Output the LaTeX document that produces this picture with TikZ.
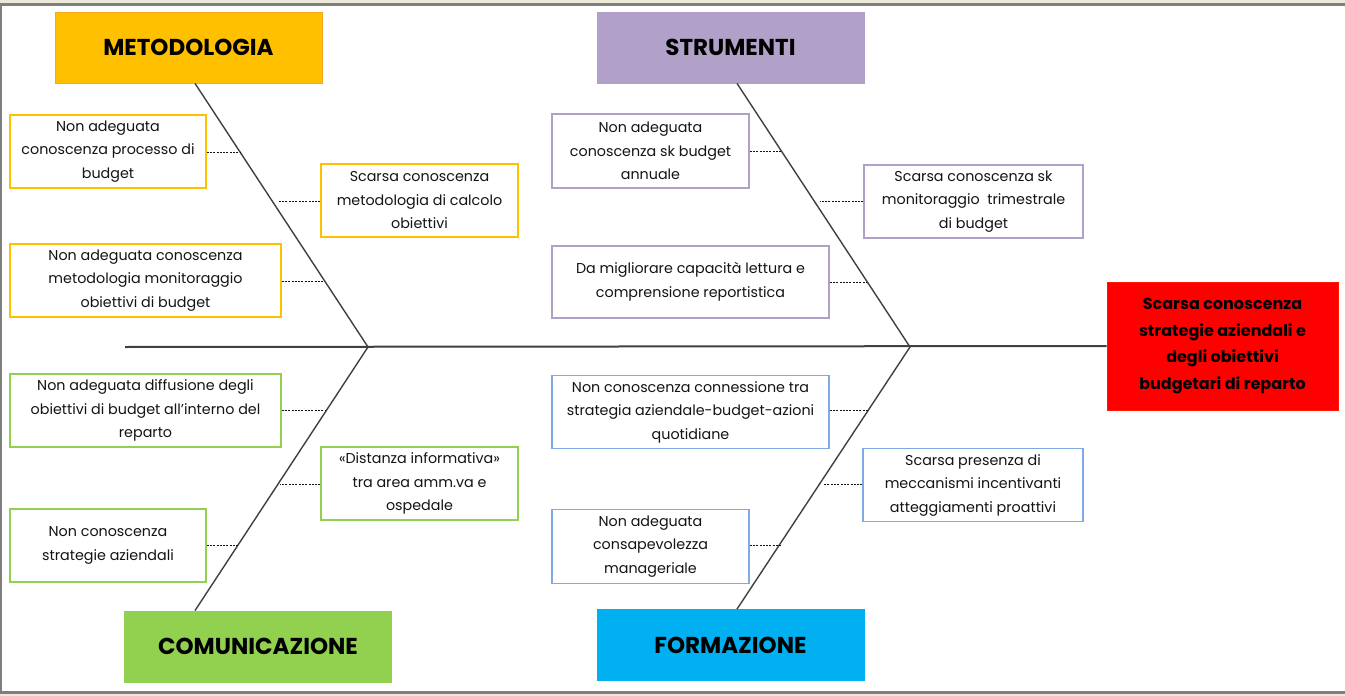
\documentclass[tikz,border=0pt]{standalone}
\usepackage{fontspec}
\setmainfont{Poppins}
\definecolor{metcol}{HTML}{FFC000}
\definecolor{metedge}{HTML}{F7A823}
\definecolor{strcol}{HTML}{B1A0C7}
\definecolor{comcol}{HTML}{92D050}
\definecolor{forcol}{HTML}{00B0F0}
\definecolor{foredge}{HTML}{7FAAE6}
\definecolor{effcol}{HTML}{FF0000}
\definecolor{bonecol}{HTML}{404040}
\definecolor{txtcol}{HTML}{141414}
\definecolor{framegray}{HTML}{7F7F7F}
\definecolor{framebeige}{HTML}{ECE9D8}
\begin{document}
\begin{tikzpicture}[x=1pt,y=-1pt,
  title/.style={draw=#1, line width=0.8pt, fill=#1, inner sep=0pt,
    minimum width=267pt, minimum height=71pt, text=black,
    font=\fontsize{23}{27}\selectfont\bfseries},
  cause/.style={draw=#1, line width=1.2pt, fill=white, inner sep=0pt,
    align=center, text=txtcol, font=\fontsize{14.3}{23.5}\selectfont},
  bone/.style={draw=bonecol, line width=1.4pt},
  spine/.style={draw=bonecol, line width=2pt},
  link/.style={draw=txtcol, line width=0.9pt, dash pattern=on 2pt off 1.3pt}
]
% page frame
\useasboundingbox (0,0) rectangle (1345,696);
\fill[framebeige] (0,0) rectangle (1345,3);
\fill[framegray] (0,3) rectangle (1345,6);
\fill[framegray] (0,3) rectangle (2,694);
\fill[framegray] (0,690.5) rectangle (1345,694);
\fill[framebeige] (0,694) rectangle (1345,696);

% category headers
\node[title=metcol, draw=metedge] (met) at (188.5,47.5) {METODOLOGIA};
\node[title=strcol] (str) at (730.5,47.5) {STRUMENTI};
\node[title=comcol] (com) at (258,646.5) {COMUNICAZIONE};
\node[title=forcol] (for) at (730.5,645) {FORMAZIONE};

% effect
\node[draw=effcol!80!orange, line width=0.8pt, fill=effcol, inner sep=0pt,
  minimum width=231pt, minimum height=128pt, align=center, text=black,
  font=\fontsize{16}{27}\selectfont\bfseries] (eff) at (1222.5,346)
  {Scarsa conoscenza\\strategie aziendali e\\degli obiettivi\\budgetari di reparto};

% skeleton
\coordinate (tail) at (125,347);
\coordinate (j1) at (368,347);
\coordinate (j2) at (910,347);
\draw[spine] (tail) -- (eff.west);
\draw[bone] (met.south -| 195,0) -- (j1) -- (com.north -| 195,0);
\draw[bone] (str.south -| 737,0) -- (j2) -- (for.north -| 737,0);

% causes: metodologia
\node[cause=metcol, minimum width=196pt, minimum height=73pt] (c1) at (108,151.5)
  {Non adeguata\\conoscenza processo di\\budget};
\node[cause=metcol, minimum width=197pt, minimum height=73pt] (c2) at (419.5,200.5)
  {Scarsa conoscenza\\metodologia di calcolo\\obiettivi};
\node[cause=metcol, minimum width=271pt, minimum height=73pt] (c3) at (145.5,280.5)
  {Non adeguata conoscenza\\metodologia monitoraggio\\obiettivi di budget};

% causes: comunicazione
\node[cause=comcol, minimum width=271pt, minimum height=73pt] (c4) at (145.5,410.5)
  {Non adeguata diffusione degli\\obiettivi di budget all’interno del\\reparto};
\node[cause=comcol, minimum width=197pt, minimum height=73pt] (c5) at (419.5,483.5)
  {«Distanza informativa»\\tra area amm.va e\\ospedale};
\node[cause=comcol, minimum width=196pt, minimum height=73pt] (c6) at (108,545.5)
  {Non conoscenza\\strategie aziendali};

% causes: strumenti
\node[cause=strcol, minimum width=197pt, minimum height=74pt] (c7) at (650.5,151)
  {Non adeguata\\conoscenza sk budget\\annuale};
\node[cause=strcol, minimum width=219pt, minimum height=73pt] (c8) at (973.5,201.5)
  {Scarsa conoscenza sk\\monitoraggio\ \ trimestrale\\di budget};
\node[cause=strcol, minimum width=277pt, minimum height=72pt] (c9) at (690.5,282)
  {Da migliorare capacità lettura e\\comprensione reportistica};

% causes: formazione
\node[cause=foredge, minimum width=277pt, minimum height=73pt] (c10) at (690.5,412)
  {Non conoscenza connessione tra\\strategia aziendale-budget-azioni\\quotidiane};
\node[cause=foredge, minimum width=220pt, minimum height=73pt] (c11) at (973,485)
  {Scarsa presenza di\\meccanismi incentivanti\\atteggiamenti proattivi};
\node[cause=foredge, minimum width=197pt, minimum height=74pt] (c12) at (650.5,546.5)
  {Non adeguata\\consapevolezza\\manageriale};

% attachment points on the bones
\coordinate (p1) at (240,152);
\coordinate (p2) at (278,201);
\coordinate (p3) at (324,281);
\coordinate (p4) at (326,410);
\coordinate (p5) at (280,484);
\coordinate (p6) at (239,545);
\coordinate (p7) at (781,151);
\coordinate (p8) at (820,201);
\coordinate (p9) at (867,282);
\coordinate (p10) at (868,410);
\coordinate (p11) at (823,484);
\coordinate (p12) at (781,545);

% boxes left of a bone attach with their east side, boxes right of it with their west side
\foreach \i in {1,3,4,6,7,9,10,12} {
  \draw[link] (c\i.east |- p\i) -- (p\i);
}
\foreach \i in {2,5,8,11} {
  \draw[link] (c\i.west |- p\i) -- (p\i);
}
\end{tikzpicture}
\end{document}
